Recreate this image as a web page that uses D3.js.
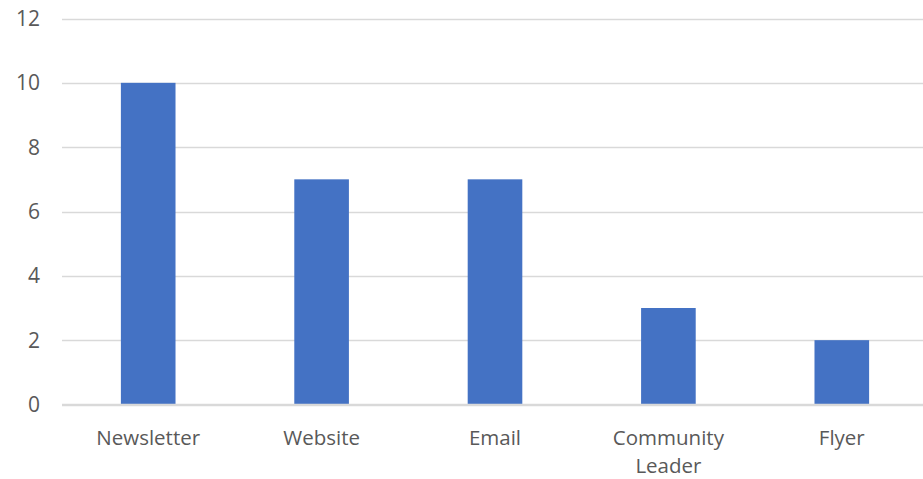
<!DOCTYPE html>
<html><head><meta charset="utf-8">
<script src="https://cdn.jsdelivr.net/npm/d3@7"></script>
<style>body{margin:0;background:#fff}svg{display:block}text{font-family:"Open Sans",Lato,sans-serif;fill:#595959}</style>
</head><body><svg id="c" width="923" height="479"></svg>
<script>
const categories = ["Newsletter", "Website", "Email", "Community Leader", "Flyer"];
const values = [10, 7, 7, 3, 2];
const yTicks = [0, 2, 4, 6, 8, 10, 12];

const svg = d3.select("#c");
const x = d3.scaleBand().domain(categories).range([61.5, 928.5]).paddingInner(0.685).paddingOuter(0.3425);
const y = d3.scaleLinear().domain([0, 12]).range([404.5, 18.5]);

svg.append("g").selectAll("line").data(yTicks).join("line")
  .attr("x1", 62).attr("x2", 923)
  .attr("y1", d => Math.round(y(d)) + 0.5).attr("y2", d => Math.round(y(d)) + 0.5)
  .attr("stroke", "#d9d9d9").attr("stroke-width", 1.3);

svg.append("g").selectAll("text").data(yTicks).join("text")
  .attr("x", 40).attr("y", d => y(d)).attr("dy", "0.36em")
  .attr("text-anchor", "end").attr("font-size", 21).text(d => d);

svg.append("g").selectAll("rect").data(values).join("rect")
  .attr("x", (d, i) => x(categories[i])).attr("width", x.bandwidth())
  .attr("y", d => y(d)).attr("height", d => y(0) - y(d))
  .attr("fill", "#4472c4");

svg.append("line").attr("x1", 62).attr("x2", 923).attr("y1", y(0)).attr("y2", y(0))
  .attr("stroke", "#d9d9d9").attr("stroke-width", 1.3);

const xl = svg.append("g").selectAll("text").data(categories).join("text")
  .attr("x", d => x(d) + x.bandwidth() / 2).attr("y", 445)
  .attr("text-anchor", "middle").attr("font-size", 20.5);
xl.each(function(d) {
  const t = d3.select(this);
  const parts = d === "Community Leader" ? ["Community", "Leader"] : [d];
  parts.forEach((p, i) => t.append("tspan").attr("x", x(d) + x.bandwidth() / 2).attr("dy", i ? 28 : 0).text(p));
});
</script></body></html>
